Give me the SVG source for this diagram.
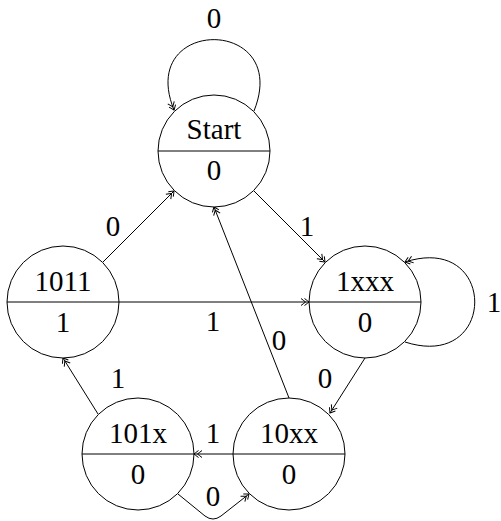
<svg xmlns="http://www.w3.org/2000/svg" width="501" height="521" viewBox="0 0 501 521">
<style>
.st{fill:#fff;stroke:#000;stroke-width:1}
.dv{stroke:#000;stroke-width:1}
.e{fill:none;stroke:#000;stroke-width:1;marker-end:url(#dbl)}
text{font-family:"Liberation Serif","Times New Roman",serif;font-size:29px;fill:#000;text-anchor:middle}
</style>
<defs>
<marker id="dbl" markerUnits="userSpaceOnUse" markerWidth="14" markerHeight="12" viewBox="-10 -6 12 12" refX="0" refY="0" orient="auto" overflow="visible">
<path d="M-4.5,-3.5 Q-1.2,-1 0,0 Q-1.2,1 -4.5,3.5 M-8,-3.5 Q-4.7,-1 -3.5,0 Q-4.7,1 -8,3.5" fill="none" stroke="#000" stroke-width="1"/>
</marker>
</defs>
<g id="connectors">
<path class="e" d="M254,111 C292,16 136,16 174,110"/>
<line class="e" x1="254" y1="191" x2="325" y2="262"/>
<line class="e" x1="103" y1="262" x2="174" y2="191"/>
<line class="e" x1="119" y1="302" x2="309" y2="302"/>
<path class="e" d="M405,342 C498,372 498,232 405,262"/>
<line class="e" x1="365" y1="358" x2="330" y2="413"/>
<line class="e" x1="289" y1="398" x2="214" y2="207"/>
<line class="e" x1="233" y1="454" x2="194" y2="454"/>
<line class="e" x1="98" y1="414" x2="63" y2="358"/>
<path class="e" d="M178,494 L205,516 Q213,522 221,516 L249,494"/>
<text x="214" y="28">0</text>
<text x="307" y="236">1</text>
<text x="113" y="236">0</text>
<text x="213" y="331">1</text>
<text x="494" y="312">1</text>
<text x="325" y="388">0</text>
<text x="279" y="350">0</text>
<text x="118" y="388">1</text>
<text x="213" y="443">1</text>
<text x="213" y="506">0</text>
</g>
<g id="start">
<circle class="st" cx="214" cy="151" r="56"/>
<line class="dv" x1="158" y1="151" x2="270" y2="151"/>
<text x="214" y="139">Start</text>
<text x="214" y="180">0</text>
</g>
<g id="n1xxx">
<circle class="st" cx="365" cy="302" r="56"/>
<line class="dv" x1="309" y1="302" x2="421" y2="302"/>
<text x="365" y="291">1xxx</text>
<text x="365" y="332">0</text>
</g>
<g id="n1011">
<circle class="st" cx="63" cy="302" r="56"/>
<line class="dv" x1="7" y1="302" x2="119" y2="302"/>
<text x="63" y="291">1011</text>
<text x="63" y="332">1</text>
</g>
<g id="n101x">
<circle class="st" cx="138" cy="454" r="56"/>
<line class="dv" x1="82" y1="454" x2="194" y2="454"/>
<text x="138" y="443">101x</text>
<text x="138" y="484">0</text>
</g>
<g id="n10xx">
<circle class="st" cx="289" cy="454" r="56"/>
<line class="dv" x1="233" y1="454" x2="345" y2="454"/>
<text x="289" y="443">10xx</text>
<text x="289" y="484">0</text>
</g>
</svg>
